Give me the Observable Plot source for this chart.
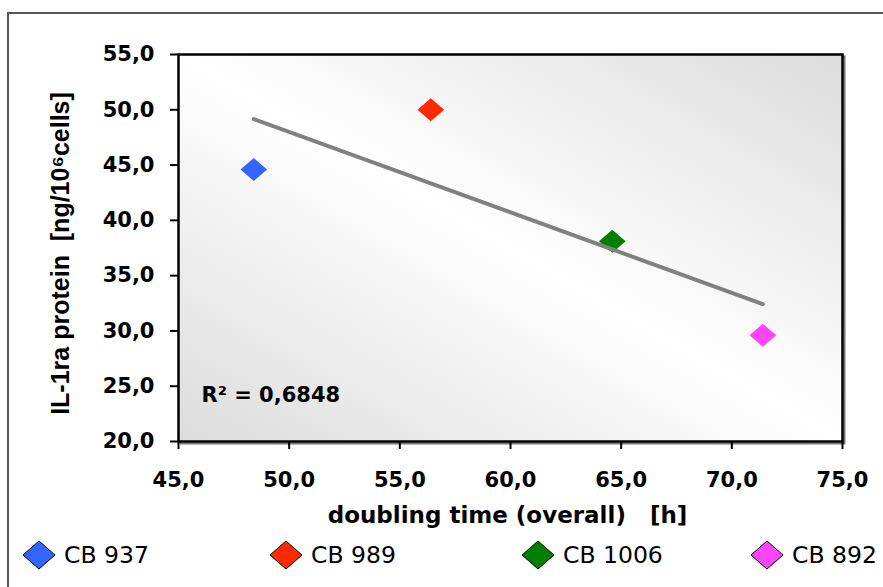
<!DOCTYPE html>
<html><head><meta charset="utf-8">
<script src="https://cdn.jsdelivr.net/npm/d3@7"></script>
<script src="https://cdn.jsdelivr.net/npm/@observablehq/plot@0.6"></script>
<style>
html,body{margin:0;padding:0;overflow:hidden;background:#fff;width:883px;height:587px;}
#frame{position:absolute;left:7px;top:12px;width:940px;height:640px;border-left:2.5px solid #555;border-top:2.5px solid #555;box-sizing:border-box;}
#chart{position:absolute;left:0;top:0;}
#legend{position:absolute;left:0;top:539px;width:883px;height:32px;font-family:"DejaVu Sans";font-size:23.5px;color:#000;}
.item{position:absolute;top:0;display:flex;align-items:center;height:32px;white-space:nowrap;}
.item svg{margin-right:8px;display:block;}
</style></head><body>
<div id="frame"></div><div id="chart"></div><div id="legend"></div>
<script>
// ---- data ----
const samples = ["CB 937", "CB 989", "CB 1006", "CB 892"];
const doublingTime = [48.4, 56.4, 64.6, 71.4];
const il1ra = [44.6, 50.0, 38.1, 29.6];
const colors = ["#3366ff", "#ff2a00", "#007f00", "#ff44ff"];
const xTicks = [45, 50, 55, 60, 65, 70, 75];
const yTicks = [20, 25, 30, 35, 40, 45, 50, 55];
const xTitle = "doubling time (overall) \u00a0\u00a0[h]";
const yTitle = "IL-1ra protein \u00a0[ng/10\u2076cells]";
const r2Label = "R\u00b2 = 0,6848";

// ---- layout ----
const legendLeft = [22, 269, 521, 750];

const data = samples.map((s, i) => ({sample: s, x: doublingTime[i], y: il1ra[i]}));
const fmt = d => d.toFixed(1).replace(".", ",");

const wideDiamond = {
  draw(ctx, size) {
    const r = Math.sqrt(size / Math.PI);
    const w = r * 1.16;
    ctx.moveTo(0, -r); ctx.lineTo(w, 0); ctx.lineTo(0, r); ctx.lineTo(-w, 0); ctx.closePath();
  }
};

const svg = Plot.plot({
  width: 883,
  height: 530,
  marginLeft: 178,
  marginRight: 41,
  marginTop: 54,
  marginBottom: 89,
  style: {background: "transparent", fontFamily: "DejaVu Sans", fontWeight: "bold", fontSize: "21px", color: "#000", overflow: "visible"},
  x: {domain: [45, 75]},
  y: {domain: [20, 55]},
  color: {domain: samples, range: colors},
  marks: [
    Plot.frame({stroke: "#777", strokeWidth: 2, dx: 2, dy: 2}),
    Plot.frame({fill: "url(#bgGrad)", stroke: "#000", strokeWidth: 2.5}),
    Plot.axisX({ticks: xTicks, tickFormat: fmt, tickSize: 8, tickPadding: 23, strokeWidth: 2, label: null, fontSize: 21}),
    Plot.axisY({ticks: yTicks, tickFormat: fmt, tickSize: 8, tickPadding: 16, strokeWidth: 2, label: null, fontSize: 21}),
    Plot.dot(data, {x: "x", y: "y", fill: "sample", symbol: wideDiamond, r: 11.5, stroke: null}),
    Plot.linearRegressionY(data, {x: "x", y: "y", stroke: "#808080", strokeWidth: 4, ci: 0}),
    Plot.text([r2Label], {frameAnchor: "bottom-left", textAnchor: "start", lineAnchor: "middle", dx: 23, dy: -46.7, fontSize: 21, fontWeight: "bold"}),
    Plot.text([xTitle], {frameAnchor: "bottom", textAnchor: "middle", lineAnchor: "middle", dx: -3, dy: 74.5, fontSize: 23, fontWeight: "bold"}),
    Plot.text([yTitle], {frameAnchor: "left", textAnchor: "middle", lineAnchor: "middle", rotate: -90, dx: -118, dy: 5.5, fontSize: 25, fontWeight: "bold", fontFamily: "Liberation Sans"})
  ]
});

const defs = d3.select(svg).insert("defs", ":first-child");
const grad = defs.append("linearGradient").attr("id", "bgGrad")
  .attr("x1", 1).attr("y1", 0).attr("x2", 0).attr("y2", 1);
grad.append("stop").attr("offset", "0%").attr("stop-color", "#dcdcdc");
grad.append("stop").attr("offset", "50%").attr("stop-color", "#ffffff");
grad.append("stop").attr("offset", "100%").attr("stop-color", "#dcdcdc");

document.getElementById("chart").appendChild(svg);

const legend = d3.select("#legend");
samples.forEach((s, i) => {
  const item = legend.append("div").attr("class", "item").style("left", legendLeft[i] + "px");
  const sv = item.append("svg").attr("width", 34).attr("height", 30);
  sv.append("polygon").attr("points", "17,1 33,15 17,29 1,15")
    .attr("fill", colors[i]).attr("stroke", "#000").attr("stroke-width", 1);
  item.append("span").text(s);
});
</script></body></html>
